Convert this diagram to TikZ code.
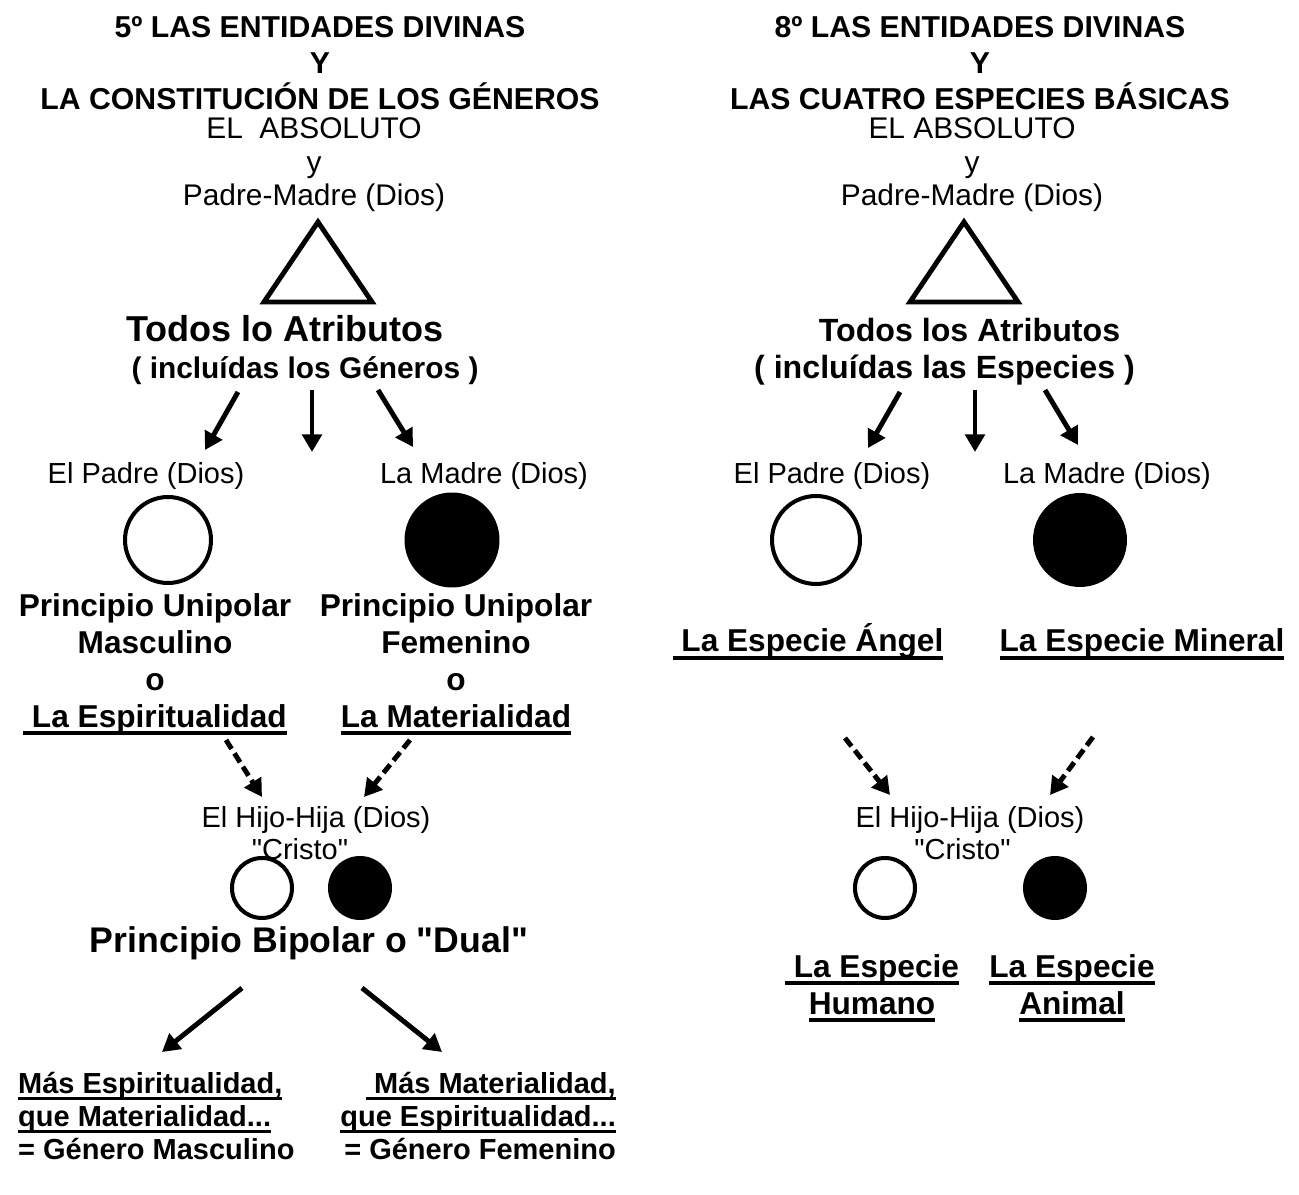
\documentclass[tikz,border=0pt]{standalone}
\usepackage{fontspec}
\setmainfont{Liberation Sans}[Ligatures=TeXOff]
\usetikzlibrary{arrows.meta,positioning}
\newcommand{\subrayado}[1]{\leavevmode\setbox0\hbox{#1}\rlap{\rule[-0.24em]{\wd0}{0.12em}}\box0}
\newcommand{\comillas}[1]{\char34\relax#1\char34\relax}

\begin{document}
\begin{tikzpicture}[
    x=0.02cm, y=-0.02cm,
    titulo/.style={font=\fontsize{17.2}{20.5}\selectfont\bfseries, align=center},
    texto/.style={font=\fontsize{16.5}{18.5}\selectfont, align=center},
    atributos/.style={font=\fontsize{18.3}{21}\selectfont\bfseries, align=center},
    principio/.style={font=\fontsize{18}{21}\selectfont\bfseries, align=center},
    resultado/.style={font=\fontsize{16.5}{19}\selectfont\bfseries},
    hueco/.style={circle, draw, line width=2.3pt, inner sep=0pt},
    lleno/.style={circle, fill, inner sep=0pt},
    flecha/.style={line width=2.8pt, -{Triangle[length=10pt,width=11pt]}},
    punteada/.style={flecha, dash pattern=on 6pt off 3pt},
    triangulo/.style={line width=2.8pt, line join=miter}
]
\useasboundingbox (0,0) rectangle (1299,1195);

% Izquierda: los generos
\node[titulo] (tit1) at (320,63) {5º LAS ENTIDADES DIVINAS\\Y\\LA CONSTITUCIÓN DE LOS GÉNEROS};
\node[texto, font=\fontsize{17}{19}\selectfont] (abs1) at (314,165) {EL~~ABSOLUTO\\y\\Padre-Madre (Dios)};
\draw[triangulo] (318,222) -- (264,302) -- (372,302) -- cycle;
\node[atributos, font=\fontsize{20.5}{21}\selectfont\bfseries] (atr1) at (305,350) {Todos lo Atributos\hspace*{0.8cm}\\{\fontsize{17}{21}\selectfont ( incluídas los Géneros )}};

\node[texto] (padre1) at (146,476) {El Padre (Dios)};
\node[texto] (madre1) at (484,476) {La Madre (Dios)};
\node[hueco, minimum size=1.72cm] (esp1) at (168,540) {};
\node[lleno, minimum size=1.9cm] (mat1) at (452,540) {};

\node[principio] (masc1) at (155,664) {Principio Unipolar\\Masculino\\o\\\subrayado{~La Espiritualidad}};
\node[principio] (fem1) at (456,664) {Principio Unipolar\\Femenino\\o\\\subrayado{La Materialidad}};

\node[texto] (hijo1) at (316,833) {El Hijo-Hija (Dios)\\\comillas{Cristo}\hspace*{0.64cm}};
\node[hueco, minimum size=1.2cm] (hb1) at (262,888) {};
\node[lleno, minimum size=1.28cm] (hn1) at (360,888) {};
\node[principio, font=\fontsize{20.3}{21}\selectfont\bfseries] (dual1) at (309,943) {Principio Bipolar o \comillas{Dual}};

\node[resultado, align=left, anchor=west] (gmasc) at (12,1116) {\subrayado{Más Espiritualidad,}\\\subrayado{que Materialidad...}\\= Género Masculino};
\node[resultado, align=right, anchor=east] (gfem) at (622,1116) {\subrayado{~Más Materialidad,}\\\subrayado{que Espiritualidad...}\\= Género Femenino};

% flechas izquierda
\coordinate (i1a) at (238,392); \coordinate (i1b) at (205,450);
\coordinate (i2a) at (312,390); \coordinate (i2b) at (312,452);
\coordinate (i3a) at (378,390); \coordinate (i3b) at (413,447);
\coordinate (i4a) at (226,740); \coordinate (i4b) at (262,797);
\coordinate (i5a) at (410,740); \coordinate (i5b) at (364,797);
\coordinate (i6a) at (242,988); \coordinate (i6b) at (162,1052);
\coordinate (i7a) at (362,988); \coordinate (i7b) at (442,1052);
\draw[flecha] (i1a) -- (i1b);
\draw[flecha] (i2a) -- (i2b);
\draw[flecha] (i3a) -- (i3b);
\draw[punteada] (i4a) -- (i4b);
\draw[punteada] (i5a) -- (i5b);
\draw[flecha] (i6a) -- (i6b);
\draw[flecha] (i7a) -- (i7b);

% Derecha: las especies
\node[titulo] (tit2) at (980,63) {8º LAS ENTIDADES DIVINAS\\Y\\LAS CUATRO ESPECIES BÁSICAS};
\node[texto, font=\fontsize{17}{19}\selectfont] (abs2) at (972,165) {EL ABSOLUTO\\y\\Padre-Madre (Dios)};
\draw[triangulo] (964,222) -- (910,302) -- (1018,302) -- cycle;
\node[atributos] (atr2) at (957,352) {\hspace*{0.5cm}Todos los Atributos\\( incluídas las Especies )\hspace*{0.5cm}};

\node[texto] (padre2) at (832,476) {El Padre (Dios)};
\node[texto] (madre2) at (1107,476) {La Madre (Dios)};
\node[hueco, minimum size=1.76cm] (angel0) at (816,540) {};
\node[lleno, minimum size=1.88cm] (mineral0) at (1080,540) {};
\node[principio, anchor=base] (angel) at (808,652) {\subrayado{~La Especie Ángel}};
\node[principio, anchor=base] (mineral) at (1142,652) {\subrayado{La Especie Mineral}};

\node[texto] (hijo2) at (970,833) {El Hijo-Hija (Dios)\\\comillas{Cristo}\hspace*{0.3cm}};
\node[hueco, minimum size=1.2cm] (hb2) at (885,888) {};
\node[lleno, minimum size=1.28cm] (hn2) at (1055,888) {};
\node[principio] (humano) at (872,988) {\subrayado{~La Especie}\\\subrayado{Humano}};
\node[principio] (animal) at (1072,988) {\subrayado{La Especie}\\\subrayado{Animal}};

% flechas derecha
\coordinate (d1a) at (900,392); \coordinate (d1b) at (868,448);
\coordinate (d2a) at (975,390); \coordinate (d2b) at (975,452);
\coordinate (d3a) at (1045,390); \coordinate (d3b) at (1078,445);
\coordinate (d4a) at (845,738); \coordinate (d4b) at (890,795);
\coordinate (d5a) at (1093,737); \coordinate (d5b) at (1050,795);
\draw[flecha] (d1a) -- (d1b);
\draw[flecha] (d2a) -- (d2b);
\draw[flecha] (d3a) -- (d3b);
\draw[punteada] (d4a) -- (d4b);
\draw[punteada] (d5a) -- (d5b);

\end{tikzpicture}
\end{document}
